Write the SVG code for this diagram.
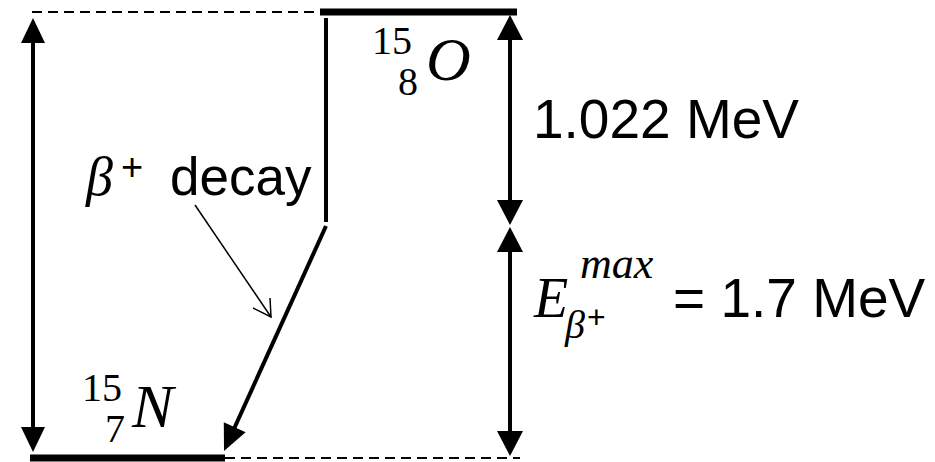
<svg xmlns="http://www.w3.org/2000/svg" width="935" height="462" viewBox="0 0 935 462">
<style>
.sans{font-family:"Liberation Sans",Arial,sans-serif;fill:#000}
.math{font-family:"Liberation Serif","Times New Roman",serif;fill:#000}
.it{font-style:italic}
.dash{stroke:#000;stroke-width:2.2;stroke-dasharray:10 6;fill:none}
.bar{stroke:#000;stroke-width:7;fill:none}
.ln{stroke:#000;stroke-width:4;fill:none}
.head{fill:#000}
</style>
<rect width="935" height="462" fill="#fff"/>
<g id="levels">
<path class="dash" d="M32 12 H320"/>
<path class="bar" d="M320 12 H517"/>
<path class="bar" d="M30 458 H225"/>
<path class="dash" d="M225 458 H520"/>
</g>
<g id="O15">
<text class="math" x="372" y="54" font-size="40">15</text>
<text class="math" x="398" y="95" font-size="40">8</text>
<text class="math it" x="426" y="80" font-size="62">O</text>
</g>
<g id="N15">
<text class="math" x="82" y="401" font-size="40">15</text>
<text class="math" x="105" y="442" font-size="40">7</text>
<text class="math it" x="132" y="427" font-size="62">N</text>
</g>
<g id="decay-label">
<text class="math it" x="86" y="195" font-size="54">β</text>
<text class="sans" x="121" y="180" font-size="38">+</text>
<text class="sans" x="170" y="195" font-size="53">decay</text>
</g>
<g id="energy-1022">
<text class="sans" x="533" y="138" font-size="55">1.022 MeV</text>
</g>
<g id="energy-max">
<text class="math it" x="534" y="317" font-size="56">E</text>
<text class="math it" x="580" y="278" font-size="44">max</text>
<text class="math it" x="565" y="338" font-size="40">β</text>
<text class="sans" x="587" y="328" font-size="32">+</text>
<text class="sans" x="673" y="317" font-size="55">= 1.7 MeV</text>
</g>
<g id="connectors">
<path class="ln" d="M33 40 V430"/>
<polygon class="head" points="33,18 45,43 21,43"/>
<polygon class="head" points="33,452 45,427 21,427"/>
<path class="ln" d="M510 38 V202"/>
<polygon class="head" points="510,15 523,40 497,40"/>
<polygon class="head" points="510,225 523,200 497,200"/>
<path class="ln" d="M510 250 V433"/>
<polygon class="head" points="510,227 523,252 497,252"/>
<polygon class="head" points="510,456 523,431 497,431"/>
<path class="ln" d="M326 18 V222"/>
<path class="ln" d="M326 226 L233 431"/>
<polygon class="head" points="224,451 245.6,432.3 223.8,422.3"/>
<path d="M195 205 L271 317" stroke="#000" stroke-width="1.5" fill="none"/>
<path d="M253 308 L271 317 L270 298" stroke="#000" stroke-width="1.5" fill="none"/>
</g>
</svg>
